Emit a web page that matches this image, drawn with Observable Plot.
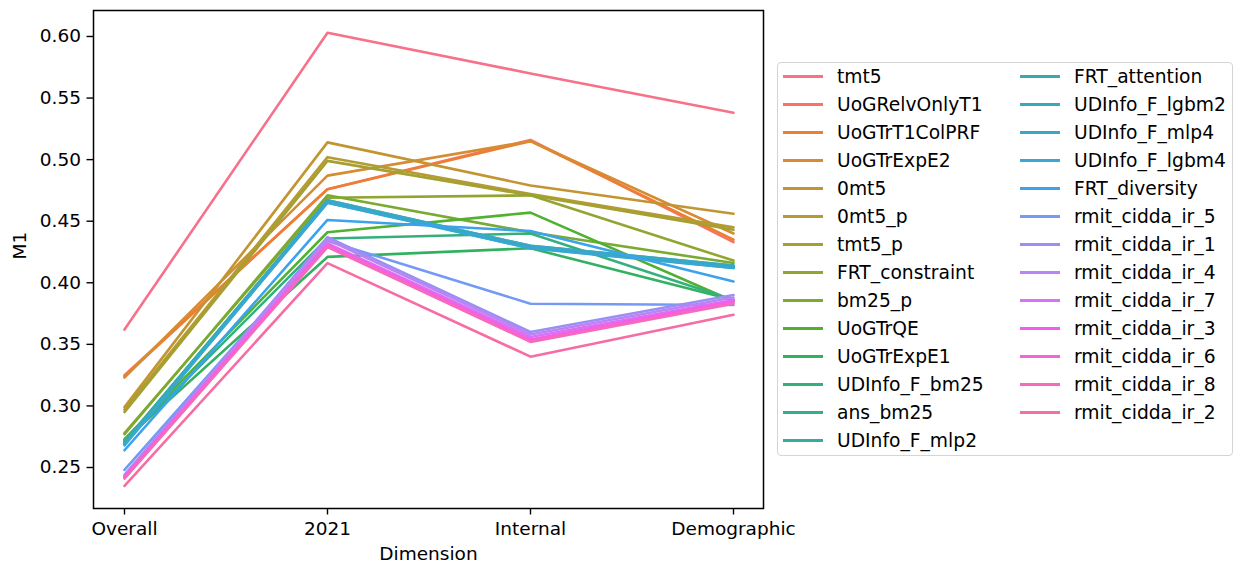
<!DOCTYPE html>
<html><head><meta charset="utf-8">
<script src="https://cdn.jsdelivr.net/npm/d3@7"></script>
<script src="https://cdn.jsdelivr.net/npm/@observablehq/plot@0.6"></script>
<style>
body{margin:0;background:#fff;font-family:"DejaVu Sans",sans-serif;}
#wrap{position:relative;width:1236px;height:567px;overflow:hidden;}
#chart{position:absolute;left:0;top:0;}
#legend{position:absolute;left:777px;top:62px;width:456px;height:394px;border:1.4px solid #d4d4d4;border-radius:4px;box-sizing:border-box;background:rgba(255,255,255,0.8);}
.item{position:absolute;height:28px;display:flex;align-items:center;font-size:18.7px;color:#000;white-space:nowrap;}
.item .sw{width:40px;height:2.8px;margin-right:14px;flex:none;}
</style></head>
<body><div id="wrap"><div id="chart"></div><div id="legend"></div></div>
<script>
const dims = ["Overall", "2021", "Internal", "Demographic"];
const runs = ["tmt5","UoGRelvOnlyT1","UoGTrT1ColPRF","UoGTrExpE2","0mt5","0mt5_p","tmt5_p","FRT_constraint","bm25_p","UoGTrQE","UoGTrExpE1","UDInfo_F_bm25","ans_bm25","UDInfo_F_mlp2","FRT_attention","UDInfo_F_lgbm2","UDInfo_F_mlp4","UDInfo_F_lgbm4","FRT_diversity","rmit_cidda_ir_5","rmit_cidda_ir_1","rmit_cidda_ir_4","rmit_cidda_ir_7","rmit_cidda_ir_3","rmit_cidda_ir_6","rmit_cidda_ir_8","rmit_cidda_ir_2"];
const overall     = [0.362,0.325,0.324,0.323,0.299,0.297,0.295,0.278,0.277,0.273,0.272,0.271,0.271,0.270,0.270,0.269,0.269,0.268,0.264,0.248,0.244,0.243,0.243,0.242,0.242,0.241,0.235];
const y2021       = [0.603,0.476,0.476,0.487,0.514,0.502,0.499,0.469,0.471,0.441,0.421,0.436,0.466,0.467,0.466,0.465,0.467,0.465,0.451,0.434,0.437,0.435,0.432,0.431,0.430,0.429,0.416];
const internal    = [0.570,0.516,0.515,0.515,0.479,0.472,0.471,0.471,0.441,0.457,0.428,0.440,0.429,0.430,0.428,0.429,0.430,0.428,0.442,0.383,0.360,0.358,0.356,0.354,0.353,0.352,0.340];
const demographic = [0.538,0.433,0.435,0.440,0.456,0.445,0.443,0.418,0.416,0.385,0.386,0.386,0.413,0.414,0.413,0.412,0.414,0.412,0.401,0.382,0.390,0.388,0.386,0.385,0.384,0.383,0.374];
const yTicks = [0.25,0.30,0.35,0.40,0.45,0.50,0.55,0.60];

// seaborn husl palette
function huslToRgb(h, s, l) {
  const m = [[3.2406,-1.5372,-0.4986],[-0.9689,1.8758,0.0415],[0.0557,-0.2040,1.0570]];
  const refU = 0.19784, refV = 0.46834, labE = 0.008856, labK = 903.3;
  function maxChroma(L, H) {
    const hr = H/360*2*Math.PI, sinH = Math.sin(hr), cosH = Math.cos(hr);
    const sub1 = Math.pow(L+16,3)/1560896;
    const sub2 = sub1 > labE ? sub1 : L/labK;
    let res = Infinity;
    for (const [m1,m2,m3] of m) {
      const top = (0.99915*m1 + 1.05122*m2 + 1.14460*m3)*sub2;
      const rb = 0.86330*m3 - 0.17266*m2;
      const lb = 0.12949*m3 - 0.38848*m1;
      const bottom = (rb*sinH + lb*cosH)*sub2;
      for (const t of [0,1]) {
        const C = L*(top - 1.05122*t)/(bottom + 0.17266*sinH*t);
        if (C > 0 && C < res) res = C;
      }
    }
    return res;
  }
  const C = maxChroma(l, h)/100*s;
  const hr = h/180*Math.PI;
  const U = Math.cos(hr)*C, V = Math.sin(hr)*C, L = l;
  const t = (L+16)/116;
  const Y = Math.pow(t,3) > labE ? Math.pow(t,3) : (116*t-16)/labK;
  const vU = U/(13*L)+refU, vV = V/(13*L)+refV;
  const X = -(9*Y*vU)/((vU-4)*vV - vU*vV);
  const Z = (9*Y - 15*vV*Y - vV*X)/(3*vV);
  const rgb = m.map(r => {
    const c = r[0]*X + r[1]*Y + r[2]*Z;
    const v = c <= 0.0031308 ? 12.92*c : 1.055*Math.pow(c,1/2.4) - 0.055;
    return Math.max(0, Math.min(1, v));
  });
  return d3.rgb(rgb[0]*255, rgb[1]*255, rgb[2]*255).formatHex();
}
const n = runs.length;
const palette = d3.range(n).map(i => huslToRgb(((i/n + 0.01) % 1)*359, 0.9*99, 0.65*99));

const series = [overall, y2021, internal, demographic];
const data = [];
runs.forEach((r, i) => dims.forEach((d, j) => data.push({run: r, dim: d, value: series[j][i]})));

const plot = Plot.plot({
  width: 1236, height: 567,
  marginLeft: 93, marginRight: 473, marginTop: 10, marginBottom: 59,
  style: {fontFamily: "DejaVu Sans, sans-serif", fontSize: "18.5px", color: "#000", background: "transparent", overflow: "visible"},
  x: {type: "point", domain: dims, padding: 0.15},
  y: {domain: [0.2167, 0.6211]},
  color: {domain: runs, range: palette},
  marks: [
    Plot.line(data, {x: "dim", y: "value", z: "run", stroke: "run", strokeWidth: 2.6, curve: "linear"}),
    Plot.frame({stroke: "#000", strokeWidth: 1.5}),
    Plot.axisY({ticks: yTicks, tickFormat: d3.format(".2f"), tickSize: 6.5, tickPadding: 6, stroke: "#000", strokeWidth: 1.4, label: null, fontSize: 18.5}),
    Plot.axisX({tickSize: 6.5, tickPadding: 7, stroke: "#000", strokeWidth: 1.4, label: null, fontSize: 18.5}),
    Plot.text(["M1"], {frameAnchor: "left", dx: -73, rotate: -90, fontSize: 18.5}),
    Plot.text(["Dimension"], {frameAnchor: "bottom", dy: 51, fontSize: 18.5})
  ]
});
document.getElementById("chart").appendChild(plot);

const leg = document.getElementById("legend");
runs.forEach((r, i) => {
  const col = i < 14 ? 0 : 1, row = i < 14 ? i : i - 14;
  const el = document.createElement("div");
  el.className = "item";
  el.style.left = (col === 0 ? 5 : 242) + "px";
  el.style.top = (0.7 + row*28 - 1.4) + "px";
  el.innerHTML = `<span class="sw" style="background:${palette[i]}"></span><span>${r}</span>`;
  leg.appendChild(el);
});
</script></body></html>
